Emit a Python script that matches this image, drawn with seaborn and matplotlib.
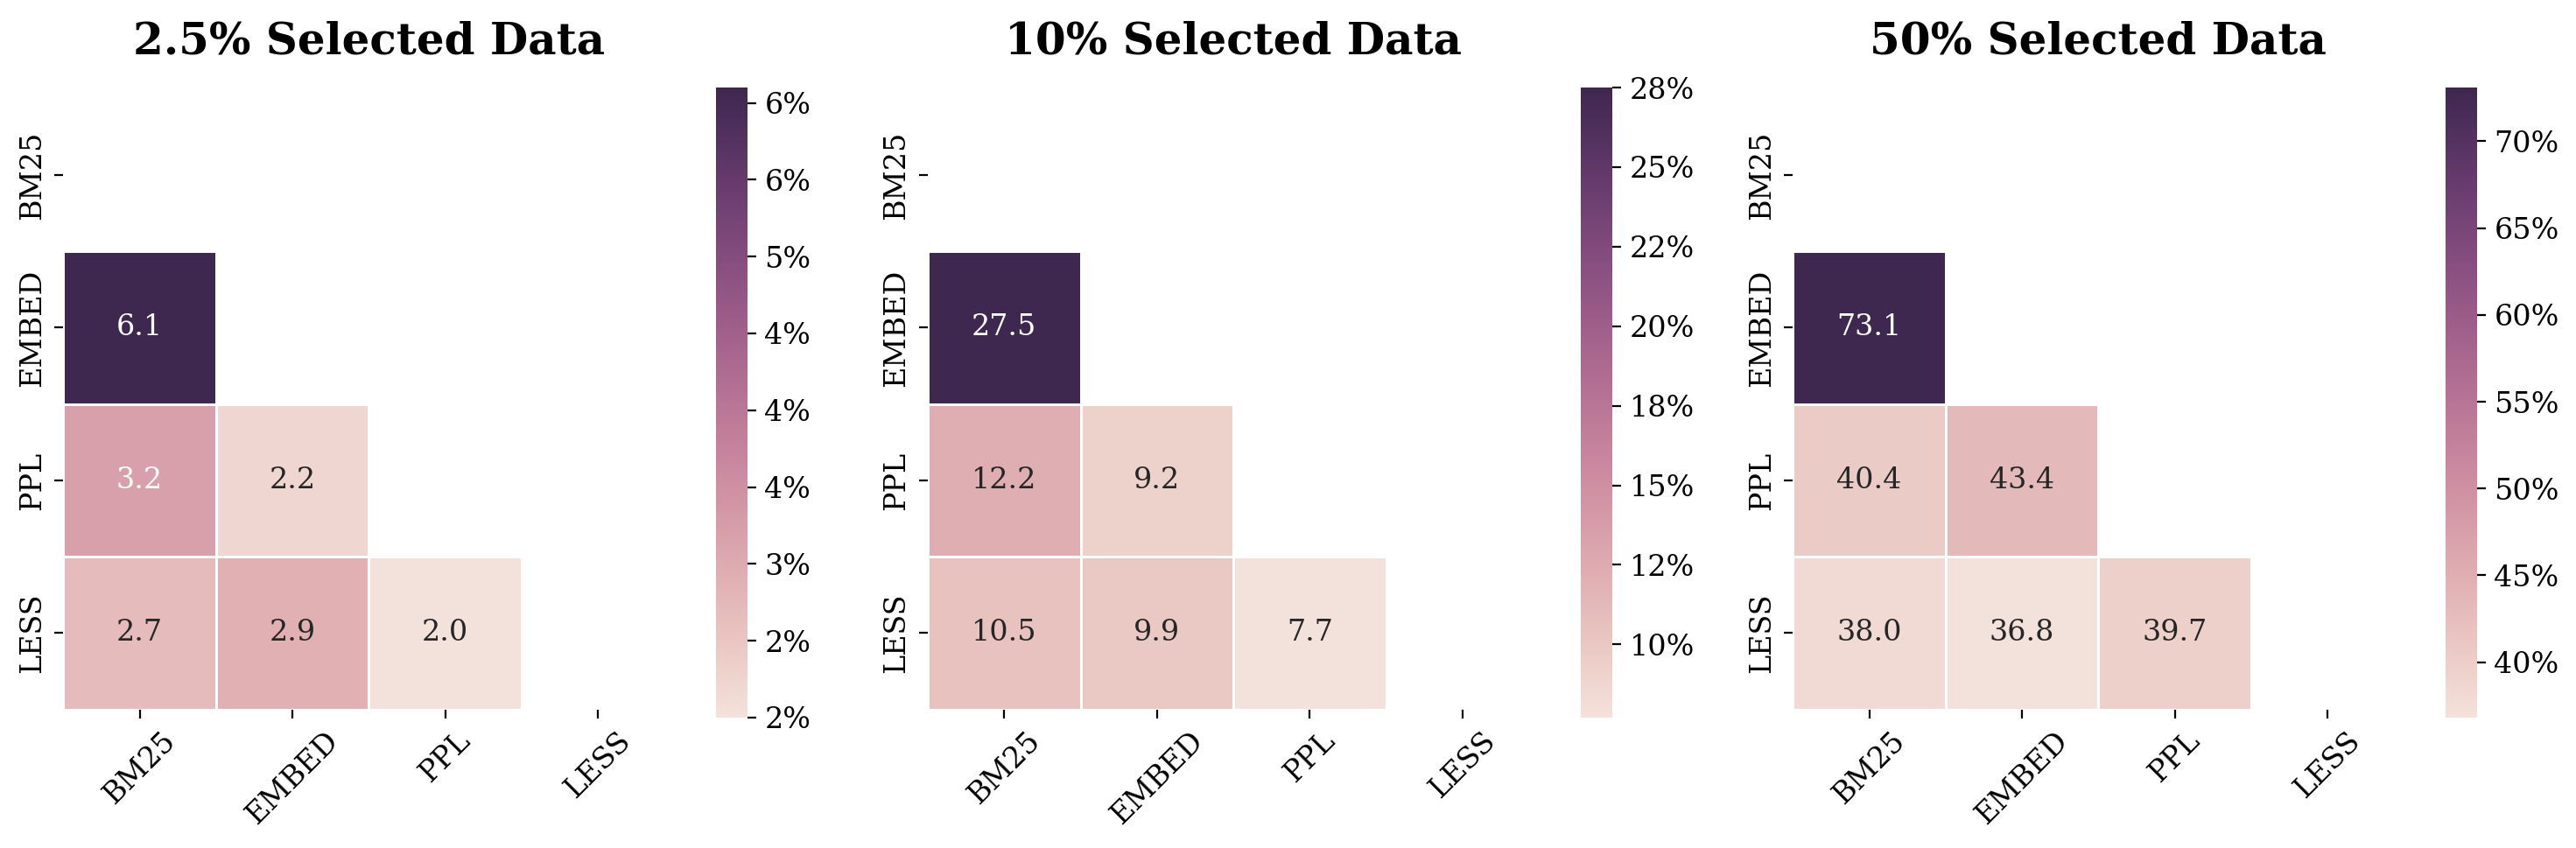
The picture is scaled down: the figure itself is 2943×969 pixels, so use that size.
import numpy as np
import matplotlib
matplotlib.use("Agg")
import matplotlib.pyplot as plt
from matplotlib.ticker import FuncFormatter
from matplotlib.colors import Normalize
import seaborn as sns
from seaborn.utils import relative_luminance

# ---- data ----
methods = ["BM25", "EMBED", "PPL", "LESS"]
titles = ["2.5% Selected Data", "10% Selected Data", "50% Selected Data"]
# lower-triangle pairs, row-major: (EMBED,BM25), (PPL,BM25), (PPL,EMBED), (LESS,BM25), (LESS,EMBED), (LESS,PPL)
overlap_2_5 = [6.1, 3.2, 2.2, 2.7, 2.9, 2.0]
overlap_10 = [27.5, 12.2, 9.2, 10.5, 9.9, 7.7]
overlap_50 = [73.1, 40.4, 43.4, 38.0, 36.8, 39.7]
series = [overlap_2_5, overlap_10, overlap_50]

plt.rcParams["font.family"] = ["DejaVu Serif"]

W, H = 2943, 969
DPI = 200
fig = plt.figure(figsize=(W / DPI, H / DPI), dpi=DPI)

cmap = sns.cubehelix_palette(light=0.9, dark=0.2, as_cmap=True)
n = len(methods)
rows, cols = np.tril_indices(n, -1)
mask = np.triu(np.ones((n, n), dtype=bool))

ax_left = [72.3, 1060.0, 2048.3]
cb_left = [818.0, 1806.0, 2794.0]
ax_size = 698.0

fmt = FuncFormatter(lambda x, pos: f"{x:.0f}%")

for i, vals in enumerate(series):
    mat = np.full((n, n), np.nan)
    mat[rows, cols] = vals
    ax = fig.add_axes([ax_left[i] / W, (H - 810.7) / H, ax_size / W, ax_size / H])
    cax = fig.add_axes([cb_left[i] / W, (H - 820) / H, 36 / W, 720 / H])
    sns.heatmap(mat, mask=mask, cmap=cmap, annot=True, fmt=".1f",
                annot_kws={"fontsize": 12}, linewidths=0.5, linecolor="white",
                square=True, ax=ax, cbar_ax=cax,
                cbar_kws={"format": fmt},
                xticklabels=methods, yticklabels=methods)
    norm = Normalize(vmin=min(vals), vmax=max(vals))
    for t in ax.texts:
        v = float(t.get_text())
        lum = relative_luminance(cmap(norm(v)))
        t.set_color(".15" if lum > 0.43 else "w")
    ax.set_title(titles[i], fontsize=18, fontweight="bold", pad=18.5)
    ax.tick_params(axis="x", labelsize=12, labelrotation=45)
    ax.tick_params(axis="y", labelsize=12, labelrotation=90)
    for t in ax.get_yticklabels():
        t.set_va("center")
    cax.tick_params(labelsize=12)

fig.savefig("out.png", dpi=DPI)
